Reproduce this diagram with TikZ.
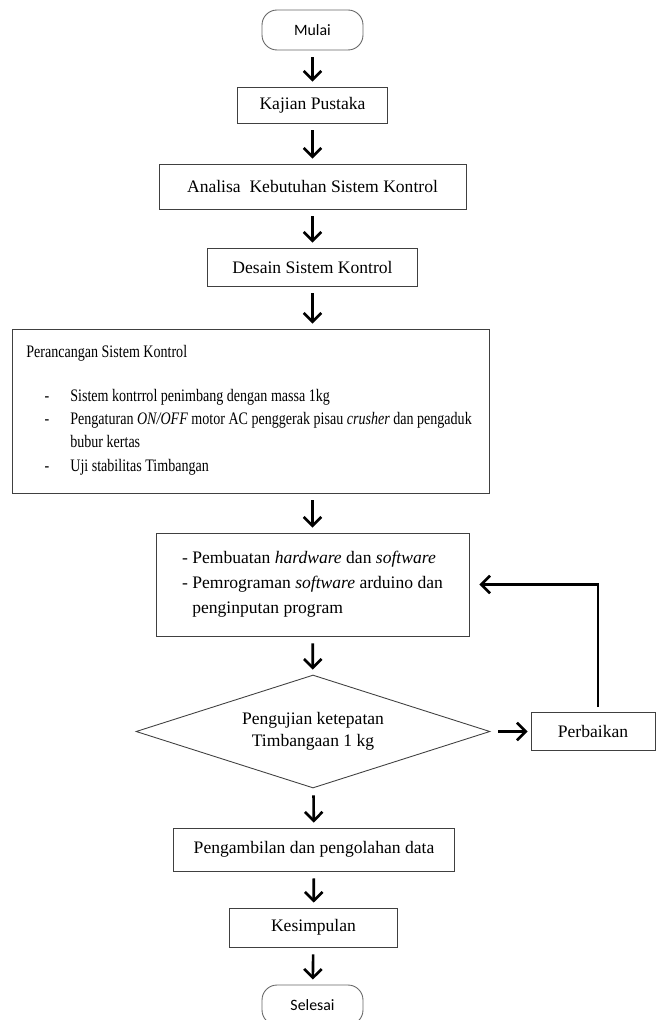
\documentclass[tikz,border=0pt]{standalone}
\usepackage{fontspec}
\setmainfont{Liberation Serif}
\newfontfamily\calibrifont{Carlito}
\newfontfamily\narrowfont[FakeStretch=0.8]{Liberation Serif}
\usetikzlibrary{arrows.meta}
\usetikzlibrary{shapes.geometric}

\begin{document}
\begin{tikzpicture}[x=0.02cm,y=-0.02cm,
  box/.style={draw=black!75,line width=0.5pt,rectangle,inner sep=0pt,font=\fontsize{10}{12}\selectfont},
  term/.style={draw=black!60,line width=0.5pt,rounded corners=0.3cm,minimum width=2.02cm,minimum height=0.8cm,font=\calibrifont\fontsize{9}{11}\selectfont},
  flow/.style={line width=1.5pt,-{Straight Barb[length=5pt,width=10pt]},shorten <=0.14cm,shorten >=0.1cm},
  isi/.style={anchor=base west,inner sep=0pt,font=\narrowfont\fontsize{10}{13}\selectfont}]
\useasboundingbox (0,0) rectangle (657,1020);

% langkah utama
\node[term] (mulai) at (312.5,30) {Mulai};
\node[box,minimum width=3cm,minimum height=0.72cm] (kajian) at (312.5,105) {Kajian Pustaka};
\node[box,minimum width=6.14cm,minimum height=0.9cm] (analisa) at (312.5,186.5) {Analisa\ \ Kebutuhan Sistem Kontrol};
\node[box,minimum width=4.2cm,minimum height=0.76cm] (desain) at (312.5,267) {Desain Sistem Kontrol};

% perancangan
\node[box,minimum width=9.54cm,minimum height=3.28cm] (rancang) at (250.5,411) {};
\node[isi] (judul) at (26,357) {Perancangan Sistem Kontrol};
\foreach \y in {401,424,471}
  \node[isi,anchor=base] (dash\y) at (47,\y) {-};
\node[isi] (poin1) at (70,401) {Sistem kontrrol penimbang dengan massa 1kg};
\node[isi] (poin2) at (70,424) {Pengaturan \textit{ON/OFF} motor AC penggerak pisau \textit{crusher} dan pengaduk};
\node[isi] (poin2b) at (70,447) {bubur kertas};
\node[isi] (poin3) at (70,471) {Uji stabilitas Timbangan};

\node[box,minimum width=6.26cm,minimum height=2.06cm,align=left,font=\fontsize{10}{14.2}\selectfont] (hardware) at (312.5,584.5)
  {- Pembuatan \textit{hardware} dan \textit{software}\\
   - Pemrograman \textit{software} arduino dan\\
   \phantom{- }penginputan program};

\node[diamond,draw=black!75,line width=0.5pt,shape aspect=3.1,minimum width=7.08cm,minimum height=2.26cm,inner sep=0pt,align=center,font=\fontsize{10}{12.5}\selectfont] (uji) at (313,731.5)
  {Pengujian ketepatan\\Timbangaan 1 kg};
\node[box,minimum width=2.48cm,minimum height=0.76cm] (perbaikan) at (593,731.5) {Perbaikan};

\node[box,minimum width=5.62cm,minimum height=0.86cm] (ambil) at (314,849.5) {Pengambilan dan pengolahan data};
\node[box,minimum width=3.36cm,minimum height=0.78cm] (simpul) at (313.5,927.5) {Kesimpulan};
\node[term] (selesai) at (312.5,1005) {Selesai};

% panah
\draw[flow] (mulai) -- (kajian);
\draw[flow] (kajian) -- (analisa);
\draw[flow] (analisa) -- (desain);
\draw[flow] (desain) -- (desain |- rancang.north);
\draw[flow] (hardware |- rancang.south) -- (hardware);
\draw[flow] (hardware) -- (uji);
\draw[flow] (uji) -- (ambil);
\draw[flow] (ambil) -- (simpul);
\draw[flow] (simpul) -- (selesai);
\draw[flow,shorten <=0.16cm,shorten >=0.06cm] (uji.east) -- (perbaikan.west);
\draw[flow,shorten <=0.1cm,shorten >=0.2cm] ([xshift=0.1cm]perbaikan.north) |- (hardware.east);

\end{tikzpicture}
\end{document}
